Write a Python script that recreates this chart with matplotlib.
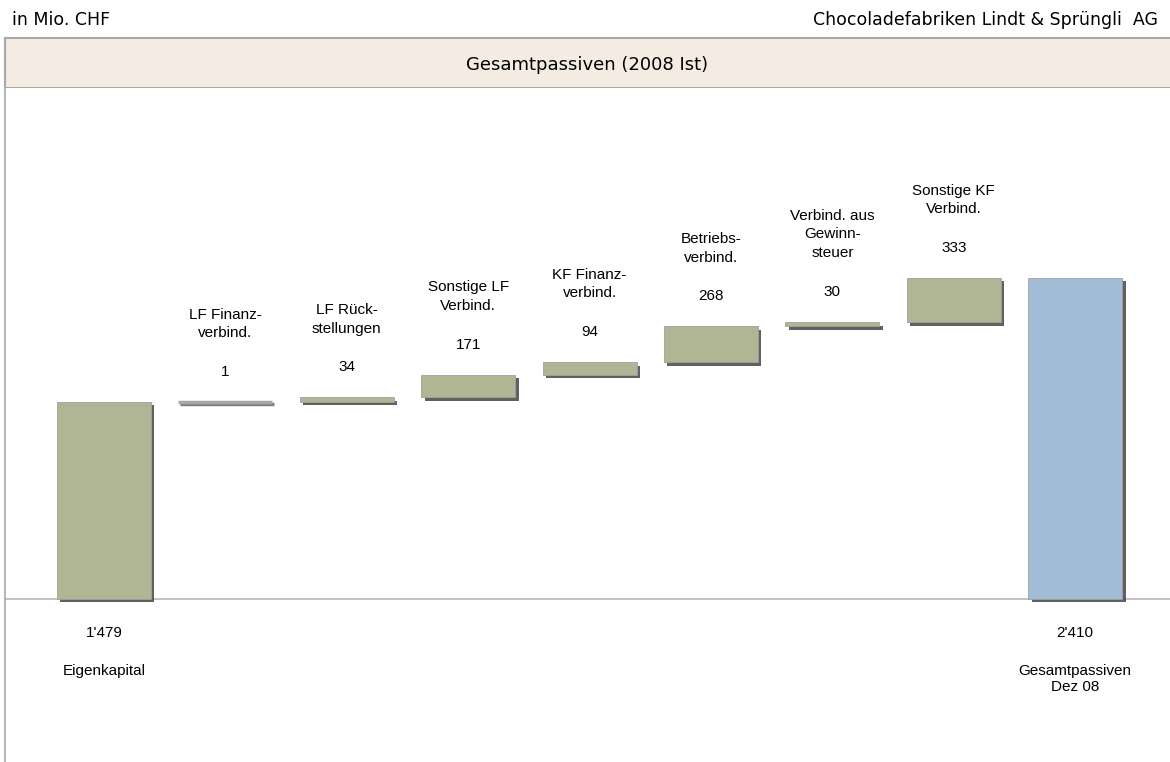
import matplotlib.pyplot as plt
import matplotlib.patheffects as pe
from matplotlib.patches import Rectangle
import numpy as np

# data
labels = ["Eigenkapital", "LF Finanz-\nverbind.", "LF Rück-\nstellungen", "Sonstige LF\nVerbind.",
          "KF Finanz-\nverbind.", "Betriebs-\nverbind.", "Verbind. aus\nGewinn-\nsteuer",
          "Sonstige KF\nVerbind.", "Gesamtpassiven\nDez 08"]
start_value = 1479
deltas = [1, 34, 171, 94, 268, 30, 333]
total = 2410
value_text = ["1'479", "1", "34", "171", "94", "268", "30", "333", "2'410"]

GREEN = "#B0B594"
BLUE = "#A3BDD6"
W, H = 1170, 762

fig = plt.figure(figsize=(W / 100, H / 100), dpi=100)

# header texts
fig.text(12 / W, 1 - 20 / H, "in Mio. CHF", fontsize=12.5, family="DejaVu Sans", va="center", ha="left")
fig.text(1158 / W, 1 - 20 / H, "Chocoladefabriken Lindt & Sprüngli  AG", fontsize=12.5,
         family="DejaVu Sans", va="center", ha="right")

# title box
hdr = fig.add_axes([5 / W, 1 - 88 / H, 1165 / W, 50 / H])
hdr.set_xlim(0, 1); hdr.set_ylim(0, 1)
hdr.add_patch(Rectangle((0, 0), 1.2, 1, facecolor="#F4ECE3", edgecolor="#A8A8A8", lw=1.5,
                        transform=hdr.transAxes, clip_on=False))
hdr.text(0.5, 0.46, "Gesamtpassiven (2008 Ist)", ha="center", va="center", fontsize=13,
         family="DejaVu Sans")
hdr.axis("off")

# main plot area
ax = fig.add_axes([5 / W, 0, 1165 / W, (H - 88) / H])
px_per_unit = 321 / total
step = 121.4
ax.set_xlim(-(104 - 5) / step, (1170 - 104) / step)
ax.set_ylim(-(H - 599) / px_per_unit, (599 - 88) / px_per_unit)
for s in ax.spines.values():
    s.set_visible(False)
ax.set_xticks([]); ax.set_yticks([])
ax.plot([0, 0], [0, 1], transform=ax.transAxes, color="#A8A8A8", lw=1.2, clip_on=False)
ax.axhline(0, color="#B8B8B8", lw=1.2, zorder=1)

n = len(labels)
x = np.arange(n)
bottoms = [0] + list(start_value + np.cumsum([0] + deltas[:-1])) + [0]
heights = [start_value] + deltas + [total]
colors = [GREEN] * (n - 1) + [BLUE]

shadow = [pe.SimplePatchShadow(offset=(2.5, -2.5), shadow_rgbFace="#505050", alpha=0.9), pe.Normal()]
bars = ax.bar(x, heights, bottom=bottoms, width=0.774, color=colors, edgecolor="#A0A0A0",
              linewidth=0.6, zorder=3)
for b, h in zip(bars, heights):
    b.set_path_effects(shadow)
    if h * px_per_unit < 1:
        # tiny bar: draw it as a grey band like the original
        b.set_linewidth(2.5)
        b.set_edgecolor("#A8A8A8")
        b.set_path_effects([pe.Stroke(linewidth=2.5, foreground="#808080", offset=(1, -1.5)),
                            pe.Normal()])

lab_font = dict(family="Liberation Sans", fontsize=11)
for i in range(n):
    top = bottoms[i] + heights[i]
    if i in (0, n - 1):
        ax.annotate(value_text[i], (x[i], 0), xytext=(0, -34), textcoords="offset pixels",
                    ha="center", va="center", **lab_font)
        ax.annotate(labels[i], (x[i], 0), xytext=(0, -65), textcoords="offset pixels",
                    ha="center", va="top", linespacing=1.2, **lab_font)
    else:
        ax.annotate(value_text[i], (x[i], top), xytext=(0, 30), textcoords="offset pixels",
                    ha="center", va="center", **lab_font)
        nl = labels[i].count("\n") + 1
        ax.annotate(labels[i], (x[i], top), xytext=(0, 68 + (nl - 1) * 20 / 2),
                    textcoords="offset pixels", ha="center", va="center",
                    linespacing=1.4, **lab_font)

fig.savefig("out.png", dpi=100)
